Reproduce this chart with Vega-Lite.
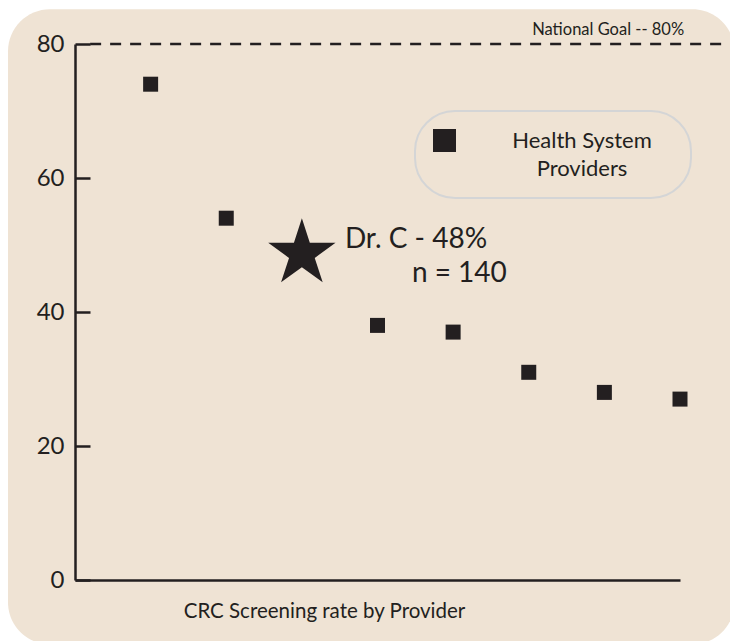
{
  "$schema": "https://vega.github.io/schema/vega-lite/v6.json",
  "width": 605,
  "height": 536,
  "autosize": {"type": "none"},
  "padding": {"left": 75, "top": 44, "right": 50, "bottom": 61},
  "background": "white",
  "config": {
    "view": {"stroke": null},
    "font": "Lato",
    "style": {"guide-label": {"lineHeight": 28}},
    "legend": {
      "orient": "none",
      "legendX": 340,
      "legendY": 67,
      "fillColor": "#EFE3D4",
      "strokeColor": "#D4D5D6",
      "strokeWidth": 2,
      "cornerRadius": 40,
      "padding": 18,
      "symbolType": "square",
      "symbolSize": 529,
      "symbolStrokeWidth": 0,
      "labelFont": "Lato",
      "labelFontSize": 22,
      "labelColor": "#231F20",
      "labelAlign": "center",
      "labelOffset": 126,
      "titleOrient": "right",
      "titlePadding": 21
    }
  },
  "datasets": {
    "providers": [
      {"provider": 1, "rate": 74, "group": "Health System Providers"},
      {"provider": 2, "rate": 54, "group": "Health System Providers"},
      {"provider": 4, "rate": 38, "group": "Health System Providers"},
      {"provider": 5, "rate": 37, "group": "Health System Providers"},
      {"provider": 6, "rate": 31, "group": "Health System Providers"},
      {"provider": 7, "rate": 28, "group": "Health System Providers"},
      {"provider": 8, "rate": 27, "group": "Health System Providers"}
    ],
    "drc": [
      {"provider": 3, "rate": 48.7, "label": "Dr. C - 48%", "n": "n = 140"}
    ],
    "goal": [
      {"rate": 80, "label": "National Goal -- 80%"}
    ]
  },
  "layer": [
    {
      "data": {"values": [{}]},
      "mark": {"type": "rect", "fill": "#EFE3D4", "cornerRadius": 42, "zindex": 0},
      "encoding": {
        "x": {
          "datum": -0.886, "type": "quantitative", "scale": {"domain": [0, 8], "nice": false},
          "axis": {
            "zindex": 2,
            "ticks": false, "labels": false, "grid": false,
            "domainColor": "#231F20", "domainWidth": 2.5,
            "title": "CRC Screening rate by Provider",
            "titleFont": "Lato", "titleFontSize": 20.5, "titleFontWeight": "normal",
            "titleColor": "#231F20",
            "titleX": 249, "titleY": 37, "titleBaseline": "alphabetic", "titleAlign": "center", "titleAnchor": "start"
          }
        },
        "x2": {"datum": 8.72},
        "y": {
          "datum": 85.2, "type": "quantitative", "scale": {"domain": [0, 80], "nice": false},
          "axis": {
            "zindex": 2,
            "values": [0, 20, 40, 60, 80],
            "grid": false, "title": null,
            "tickSize": -15, "tickWidth": 2.5, "tickColor": "#231F20",
            "domainColor": "#231F20", "domainWidth": 2.5,
            "labelFont": "Lato", "labelFontSize": 24, "labelColor": "#231F20",
            "labelPadding": 26
          }
        },
        "y2": {"datum": -9.6}
      }
    },
    {
      "data": {"name": "goal"},
      "mark": {"type": "rule", "color": "#231F20", "strokeWidth": 2.5, "strokeDash": [11, 9], "zindex": 3},
      "encoding": {
        "x": {"datum": 0.2, "type": "quantitative"},
        "x2": {"datum": 8.75},
        "y": {"field": "rate", "type": "quantitative"}
      }
    },
    {
      "data": {"name": "goal"},
      "mark": {"type": "text", "font": "Lato", "fontSize": 16.5, "color": "#231F20", "align": "center", "baseline": "alphabetic", "dy": -9, "zindex": 3},
      "encoding": {
        "x": {"datum": 7.05, "type": "quantitative"},
        "y": {"field": "rate", "type": "quantitative"},
        "text": {"field": "label"}
      }
    },
    {
      "data": {"name": "providers"},
      "mark": {"type": "point", "shape": "square", "filled": true, "size": 225, "opacity": 1, "zindex": 3},
      "encoding": {
        "x": {"field": "provider", "type": "quantitative"},
        "y": {"field": "rate", "type": "quantitative"},
        "color": {
          "field": "group", "type": "nominal",
          "scale": {"range": ["#231F20"]},
          "legend": {"title": " ", "labelExpr": "['Health System', 'Providers']"}
        }
      }
    },
    {
      "data": {"name": "drc"},
      "mark": {
        "type": "point", "filled": true, "opacity": 1, "color": "#231F20", "size": 5012, "zindex": 3,
        "shape": "M0,-1L0.2245,-0.309L0.951,-0.309L0.363,0.118L0.588,0.809L0,0.382L-0.588,0.809L-0.363,0.118L-0.951,-0.309L-0.2245,-0.309Z"
      },
      "encoding": {
        "x": {"field": "provider", "type": "quantitative"},
        "y": {"field": "rate", "type": "quantitative"}
      }
    },
    {
      "data": {"name": "drc"},
      "mark": {"type": "text", "font": "Lato", "fontSize": 28, "color": "#231F20", "align": "left", "baseline": "alphabetic", "dx": 43, "dy": -6, "zindex": 3},
      "encoding": {
        "x": {"field": "provider", "type": "quantitative"},
        "y": {"field": "rate", "type": "quantitative"},
        "text": {"field": "label"}
      }
    },
    {
      "data": {"name": "drc"},
      "mark": {"type": "text", "font": "Lato", "fontSize": 28, "color": "#231F20", "align": "left", "baseline": "alphabetic", "dx": 110, "dy": 28, "zindex": 3},
      "encoding": {
        "x": {"field": "provider", "type": "quantitative"},
        "y": {"field": "rate", "type": "quantitative"},
        "text": {"field": "n"}
      }
    }
  ]
}
